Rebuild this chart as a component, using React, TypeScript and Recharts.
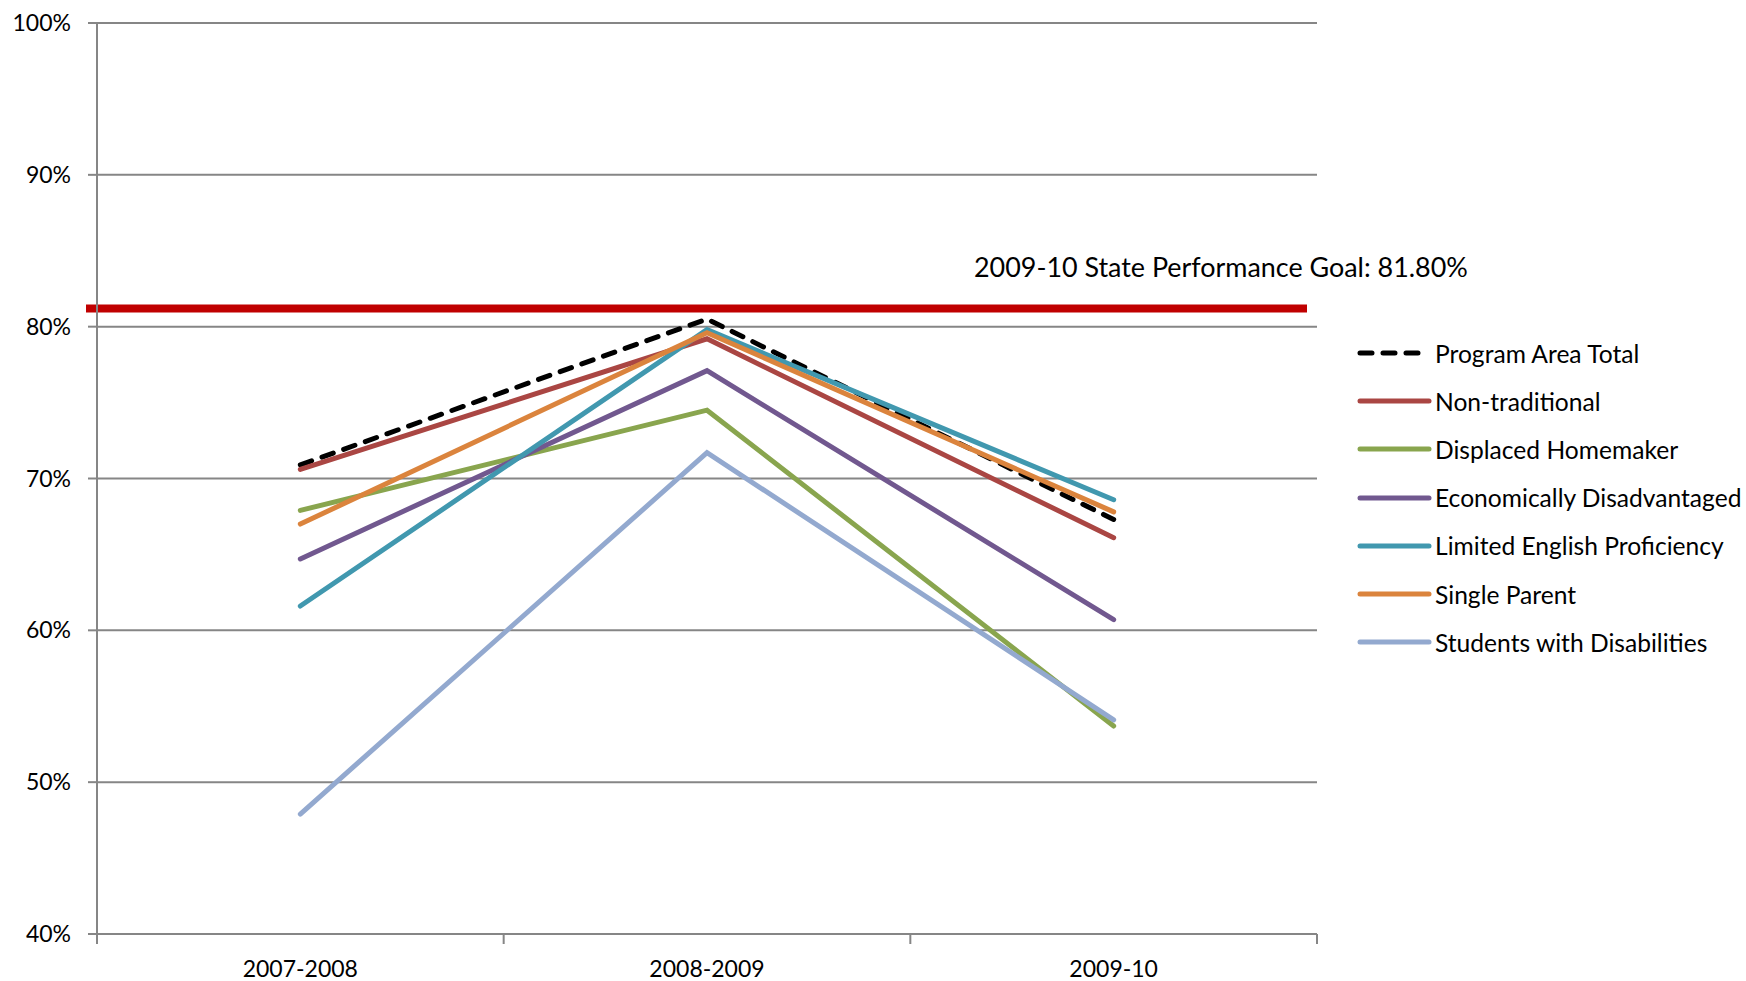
import { LineChart, Line, XAxis, YAxis, CartesianGrid, ReferenceLine, Legend } from 'recharts'

const CATEGORIES = ['2007-2008', '2008-2009', '2009-10']
const programAreaTotal = [70.9, 80.5, 67.3]
const nonTraditional = [70.6, 79.2, 66.1]
const displacedHomemaker = [67.9, 74.5, 53.7]
const economicallyDisadvantaged = [64.7, 77.1, 60.7]
const limitedEnglish = [61.6, 79.8, 68.6]
const singleParent = [67.0, 79.6, 67.8]
const studentsWithDisabilities = [47.9, 71.7, 54.1]

const Y_TICKS = [40, 50, 60, 70, 80, 90, 100]
const GOAL_VALUE = 81.2
const GOAL_LABEL = '2009-10 State Performance Goal: 81.80%'

const SERIES = [
  { key: 'pat', name: 'Program Area Total', color: '#000000', dashed: true, values: programAreaTotal },
  { key: 'nt', name: 'Non-traditional', color: '#AA4643', dashed: false, values: nonTraditional },
  { key: 'dh', name: 'Displaced Homemaker', color: '#89A54E', dashed: false, values: displacedHomemaker },
  { key: 'ed', name: 'Economically Disadvantaged', color: '#71588F', dashed: false, values: economicallyDisadvantaged },
  { key: 'lep', name: 'Limited English Proficiency', color: '#4198AF', dashed: false, values: limitedEnglish },
  { key: 'sp', name: 'Single Parent', color: '#DB843D', dashed: false, values: singleParent },
  { key: 'swd', name: 'Students with Disabilities', color: '#93A9CF', dashed: false, values: studentsWithDisabilities }
]

const data = CATEGORIES.map((cat, i) => {
  const row: Record<string, string | number> = { cat }
  SERIES.forEach((s) => {
    row[s.key] = s.values[i]
  })
  return row
})

const W = 1746
const H = 981
const MARGIN = { top: 23, right: 429, bottom: 0, left: 0 }
const X_AXIS_H = 47
const Y_AXIS_W = 97
const PLOT_W = W - MARGIN.right - Y_AXIS_W
const BAND = PLOT_W / CATEGORIES.length
const FONT = 'Lato, "Open Sans", sans-serif'
const GRID = '#868686'

// Excel-style ticks sit between categories, so draw them half a band to the left
function XTick(props: any) {
  const { x, y, payload, index } = props
  const left = x - BAND / 2
  return (
    <g>
      <line x1={left} x2={left} y1={y - 8} y2={y + 2} stroke={GRID} strokeWidth={2} />
      {index === CATEGORIES.length - 1 && (
        <line x1={x + BAND / 2} x2={x + BAND / 2} y1={y - 8} y2={y + 2} stroke={GRID} strokeWidth={2} />
      )}
      <text x={x} y={y + 35} textAnchor="middle" fontSize={23} fontFamily={FONT} fill="#000">
        {payload.value}
      </text>
    </g>
  )
}

function GoalShape(props: any) {
  const { x1, x2, y1, y2 } = props
  return <line x1={x1 - 11} x2={x2 - 10} y1={y1} y2={y2} stroke="#C00000" strokeWidth={8} />
}

function GoalLabel(props: any) {
  const { viewBox } = props
  return (
    <text
      x={viewBox.x + viewBox.width - 343}
      y={viewBox.y - 31}
      fontSize={26.9}
      fontFamily={FONT}
      fill="#000"
    >
      {GOAL_LABEL}
    </text>
  )
}

function LegendList() {
  return (
    <div style={{ fontFamily: FONT, fontSize: 24.6, color: '#000' }}>
      {SERIES.map((s) => (
        <div key={s.key} style={{ display: 'flex', alignItems: 'center', height: 48.2, whiteSpace: 'nowrap' }}>
          <svg width={78} height={10} style={{ flex: 'none' }}>
            <line
              x1={3}
              x2={72}
              y1={5}
              y2={5}
              stroke={s.color}
              strokeWidth={5}
              strokeLinecap="round"
              strokeDasharray={s.dashed ? '12 11' : undefined}
            />
          </svg>
          <span>{s.name}</span>
        </div>
      ))}
    </div>
  )
}

export default function App() {
  return (
    <div style={{ position: 'absolute', left: 0, top: 0, width: W, height: H, background: '#fff' }}>
      <LineChart width={W} height={H} data={data} margin={MARGIN}>
        <CartesianGrid vertical={false} stroke={GRID} strokeWidth={2} />
        <XAxis
          dataKey="cat"
          axisLine={{ stroke: GRID, strokeWidth: 2 }}
          tickLine={false}
          tick={<XTick />}
          interval={0}
          height={X_AXIS_H}
          padding={{ left: BAND / 2, right: BAND / 2 }}
        />
        <YAxis
          domain={[40, 100]}
          ticks={Y_TICKS}
          width={Y_AXIS_W}
          tickFormatter={(v) => `${v}%`}
          axisLine={{ stroke: GRID, strokeWidth: 2 }}
          tickLine={{ stroke: GRID, strokeWidth: 2 }}
          tickSize={9}
          tickMargin={17}
          tick={{ fontSize: 23, fontFamily: FONT, fill: '#000' }}
        />
        <ReferenceLine y={GOAL_VALUE} shape={<GoalShape />} label={<GoalLabel />} />
        {SERIES.map((s) => (
          <Line
            key={s.key}
            dataKey={s.key}
            name={s.name}
            type="linear"
            stroke={s.color}
            strokeWidth={5}
            strokeLinecap="round"
            strokeDasharray={s.dashed ? '12 11' : undefined}
            dot={false}
            activeDot={false}
            isAnimationActive={false}
          />
        ))}
        <Legend
          layout="vertical"
          align="center"
          verticalAlign="middle"
          content={<LegendList />}
          wrapperStyle={{ left: 1357, top: 329, width: 389, height: 340 }}
        />
      </LineChart>
    </div>
  )
}
